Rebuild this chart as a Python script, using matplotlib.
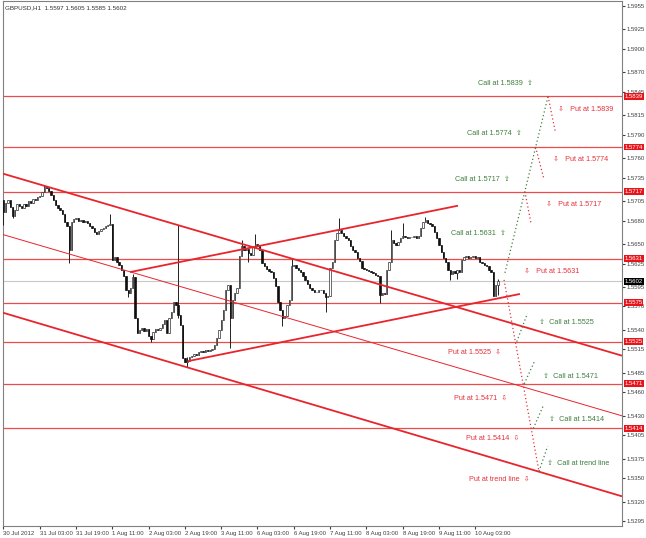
import numpy as np
import matplotlib
matplotlib.use("Agg")
import matplotlib.pyplot as plt
from matplotlib.transforms import blended_transform_factory

plt.rcParams['font.family'] = ['Liberation Sans', 'DejaVu Sans']

# GBPUSD H1 closes, first bar 30 Jul 2012 11:00
closes = [
    1.5691, 1.5702, 1.5706, 1.5697, 1.5686, 1.5694, 1.5701, 1.5699, 1.5696, 1.5701,
    1.5699, 1.5705, 1.5702, 1.5708, 1.5706, 1.5710, 1.5711, 1.5717, 1.5723, 1.5722,
    1.5718, 1.5713, 1.5706, 1.5700, 1.5696, 1.5694, 1.5688, 1.5678, 1.5673, 1.5642,
    1.5678, 1.5682, 1.5683, 1.5679, 1.5681, 1.5678, 1.5679, 1.5677, 1.5673, 1.5670,
    1.5665, 1.5663, 1.5667, 1.5669, 1.5670, 1.5673, 1.5674, 1.5676, 1.5630, 1.5633,
    1.5627, 1.5623, 1.5617, 1.5609, 1.5591, 1.5587, 1.5594, 1.5608, 1.5555, 1.5536,
    1.5540, 1.5542, 1.5539, 1.5541, 1.5532, 1.5528, 1.5537, 1.5541, 1.5540, 1.5542,
    1.5548, 1.5553, 1.5536, 1.5555, 1.5563, 1.5576, 1.5572, 1.5559, 1.5546, 1.5504,
    1.5499, 1.5500, 1.5505, 1.5507, 1.5509, 1.5508, 1.5512, 1.5513, 1.5512, 1.5514,
    1.5513, 1.5514, 1.5516, 1.5521, 1.5530, 1.5540, 1.5553, 1.5566, 1.5591, 1.5597,
    1.5555, 1.5578, 1.5587, 1.5594, 1.5635, 1.5647, 1.5642, 1.5644, 1.5638, 1.5636,
    1.5646, 1.5650, 1.5647, 1.5642, 1.5626, 1.5622, 1.5618, 1.5615, 1.5614, 1.5606,
    1.5596, 1.5576, 1.5566, 1.5555, 1.5558, 1.5572, 1.5578, 1.5622, 1.5623, 1.5619,
    1.5617, 1.5614, 1.5609, 1.5604, 1.5599, 1.5594, 1.5591, 1.5589, 1.5589, 1.5591,
    1.5591, 1.5587, 1.5582, 1.5583, 1.5619, 1.5627, 1.5655, 1.5664, 1.5668, 1.5664,
    1.5660, 1.5658, 1.5655, 1.5647, 1.5642, 1.5640, 1.5632, 1.5628, 1.5619, 1.5618,
    1.5617, 1.5615, 1.5614, 1.5613, 1.5610, 1.5609, 1.5585, 1.5587, 1.5586, 1.5617,
    1.5627, 1.5655, 1.5651, 1.5649, 1.5653, 1.5658, 1.5660, 1.5659, 1.5658, 1.5659,
    1.5659, 1.5660, 1.5658, 1.5660, 1.5670, 1.5678, 1.5681, 1.5677, 1.5676, 1.5673,
    1.5665, 1.5658, 1.5649, 1.5640, 1.5632, 1.5627, 1.5617, 1.5612, 1.5615, 1.5613,
    1.5617, 1.5614, 1.5630, 1.5633, 1.5635, 1.5632, 1.5633, 1.5635, 1.5632, 1.5633,
    1.5627, 1.5626, 1.5623, 1.5622, 1.5617, 1.5614, 1.5583, 1.5597, 1.5602,
]
first_open = 1.5706

# bars with visible shadows: index -> (high, low)
wicks = {
    0: (1.5706, 1.5674), 4: (1.5697, 1.5683), 18: (1.5726, 1.5716),
    29: (1.5673, 1.5626), 47: (1.5688, 1.5674), 55: (1.5591, 1.5582),
    57: (1.5612, 1.5594), 65: (1.5532, 1.5525), 77: (1.5674, 1.5555),
    81: (1.5505, 1.5493), 100: (1.5597, 1.5517), 105: (1.5655, 1.5635),
    108: (1.5644, 1.5627), 111: (1.5663, 1.5646), 123: (1.5566, 1.5545),
    127: (1.5632, 1.5578), 142: (1.5587, 1.5563), 148: (1.5683, 1.5664),
    166: (1.5609, 1.5574), 171: (1.5668, 1.5627), 176: (1.5677, 1.5658),
    186: (1.5685, 1.5678), 197: (1.5617, 1.5604), 200: (1.5617, 1.5605),
    218: (1.5605, 1.5585),
}

date_labels = ['30 Jul 2012', '31 Jul 03:00', '31 Jul 19:00', '1 Aug 11:00',
               '2 Aug 03:00', '2 Aug 19:00', '3 Aug 11:00', '6 Aug 03:00',
               '6 Aug 19:00', '7 Aug 11:00', '8 Aug 03:00', '8 Aug 19:00',
               '9 Aug 11:00', '10 Aug 03:00']
price_ticks = [1.5955, 1.5925, 1.5900, 1.5870, 1.5845, 1.5815, 1.5790, 1.5760,
               1.5735, 1.5705, 1.5680, 1.5650, 1.5625, 1.5595, 1.5570, 1.5540,
               1.5515, 1.5485, 1.5460, 1.5430, 1.5405, 1.5375, 1.5350, 1.5320,
               1.5295]
levels = [1.5839, 1.5774, 1.5717, 1.5631, 1.5575, 1.5525, 1.5471, 1.5414]
bid = 1.5602

# trend lines as (bar, price) pairs
chan_upper = [(-0.2, 1.5740), (272.7, 1.5507)]
chan_mid = [(-0.2, 1.5662), (272.7, 1.5430)]
chan_lower = [(-0.2, 1.5562), (272.7, 1.5327)]
rise_upper = [(55.8, 1.5614), (200.4, 1.5699)]
rise_lower = [(81.3, 1.5500), (227.7, 1.5586)]

# projected paths
path_up = [(221.1, 1.5613), (240.1, 1.5839)]
path_down = [(220.7, 1.5604), (236.1, 1.5359)]
put_legs = [[(229.9, 1.5717), (232.6, 1.5676)],
            [(234.6, 1.5774), (238.3, 1.5733)],
            [(240.1, 1.5839), (243.2, 1.5795)]]
call_legs = [[(226.3, 1.5525), (231.0, 1.5561)],
             [(229.6, 1.5471), (234.0, 1.5499)],
             [(233.6, 1.5414), (238.0, 1.5443)],
             [(236.1, 1.5359), (239.9, 1.5391)]]

call_notes = [('Call at 1.5839  \u21e7', 209.1, 1.5856),
              ('Call at 1.5774  \u21e7', 204.2, 1.5791),
              ('Call at 1.5717  \u21e7', 199.1, 1.5732),
              ('Call at 1.5631  \u21e7', 197.2, 1.5663),
              ('\u21e7  Call at 1.5525', 235.9, 1.5550),
              ('\u21e7  Call at 1.5471', 237.9, 1.5481),
              ('\u21e7  Call at 1.5414', 240.7, 1.5425),
              ('\u21e7  Call at trend line', 239.6, 1.5369)]
put_notes = [('\u21e9   Put at 1.5839', 244.3, 1.5822),
             ('\u21e9   Put at 1.5774', 242.1, 1.5759),
             ('\u21e9   Put at 1.5717', 239.2, 1.5701),
             ('\u21e9   Put at 1.5631', 229.3, 1.5615),
             ('Put at 1.5525  \u21e9', 195.9, 1.5511),
             ('Put at 1.5471  \u21e9', 198.8, 1.5453),
             ('Put at 1.5414  \u21e9', 203.8, 1.5401),
             ('Put at trend line  \u21e9', 205.2, 1.5349)]

RED = '#e8242c'
LEVEL_RED = '#ee4a4a'
GREEN = '#3f7f3f'
TEXT_RED = '#e8303a'

fig = plt.figure(figsize=(6.46, 5.38), dpi=100)
ax = fig.add_axes([3 / 646, 12 / 538, 619 / 646, 525 / 538])
ax.set_xlim(-0.2, 272.7)
ax.set_ylim(1.52890, 1.59610)

# candles
n = len(closes)
idx = np.arange(n)
c = np.array(closes)
o = np.concatenate([[first_open], c[:-1]])
hi = np.maximum(o, c)
lo = np.minimum(o, c)
for k, (h, l) in wicks.items():
    hi[k] = h
    lo[k] = l
ax.vlines(idx, lo, hi, color='#202020', lw=0.7, zorder=3)
up = c >= o
ax.bar(idx[up], (c - o)[up], bottom=o[up], width=0.6, color='white',
       edgecolor='#303030', linewidth=0.5, zorder=4)
ax.bar(idx[~up], (c - o)[~up], bottom=o[~up], width=0.6, color='#101010',
       edgecolor='#101010', linewidth=0.5, zorder=4)

# levels and bid line
for lv in levels:
    ax.axhline(lv, color=LEVEL_RED, lw=0.9, zorder=2)
ax.axhline(bid, color='#c8c8c8', lw=0.8, zorder=1)

# trend lines
for ln, w in [(chan_upper, 1.3), (chan_lower, 1.3), (chan_mid, 0.7),
              (rise_upper, 1.3), (rise_lower, 1.3)]:
    xs, ys = zip(*ln)
    ax.plot(xs, ys, color=RED, lw=w, zorder=5, solid_capstyle='butt')

# projections
xs, ys = zip(*path_up)
ax.plot(xs, ys, color=GREEN, lw=0.9, ls=(0, (1, 2)), zorder=5)
xs, ys = zip(*path_down)
ax.plot(xs, ys, color=TEXT_RED, lw=0.9, ls=(0, (1, 2)), zorder=5)
for leg in put_legs:
    xs, ys = zip(*leg)
    ax.plot(xs, ys, color=TEXT_RED, lw=0.9, ls=(0, (1, 2)), zorder=5)
for leg in call_legs:
    xs, ys = zip(*leg)
    ax.plot(xs, ys, color=GREEN, lw=0.9, ls=(0, (1, 2)), zorder=5)

for txt, x, y in call_notes:
    ax.text(x, y, txt, color=GREEN, fontsize=5.2, ha='left', va='center', zorder=6)
for txt, x, y in put_notes:
    ax.text(x, y, txt, color=TEXT_RED, fontsize=5.2, ha='left', va='center', zorder=6)

# axes styling
for side in ['top', 'left', 'right', 'bottom']:
    ax.spines[side].set_color('#808080')
    ax.spines[side].set_linewidth(0.8)
ax.yaxis.tick_right()
ax.set_yticks(price_ticks)
ax.set_yticklabels(['%.4f' % p for p in price_ticks])
ax.tick_params(axis='y', labelsize=4.3, length=2, pad=1.5, colors='#404040')
ax.set_xticks(np.arange(len(date_labels)) * 16)
ax.set_xticklabels(date_labels)
ax.tick_params(axis='x', labelsize=4.3, length=2, pad=1.5, colors='#404040')
for lab in ax.get_xticklabels():
    lab.set_ha('left')

# price tags on the right scale
tr = blended_transform_factory(ax.transAxes, ax.transData)
for lv in levels:
    ax.text(1.004, lv, '%.4f' % lv, transform=tr, fontsize=4.3, color='white',
            ha='left', va='center', clip_on=False, zorder=7,
            bbox=dict(boxstyle='square,pad=0.15', fc='#e8141c', ec='none'))
ax.text(1.004, bid, '%.4f' % bid, transform=tr, fontsize=4.3, color='white',
        ha='left', va='center', clip_on=False, zorder=7,
        bbox=dict(boxstyle='square,pad=0.15', fc='black', ec='none'))

ax.text(0.004, 0.992, 'GBPUSD,H1  1.5597 1.5605 1.5585 1.5602', transform=ax.transAxes,
        fontsize=4.5, color='#303030', ha='left', va='top')

fig.savefig('out.png', dpi=100)
